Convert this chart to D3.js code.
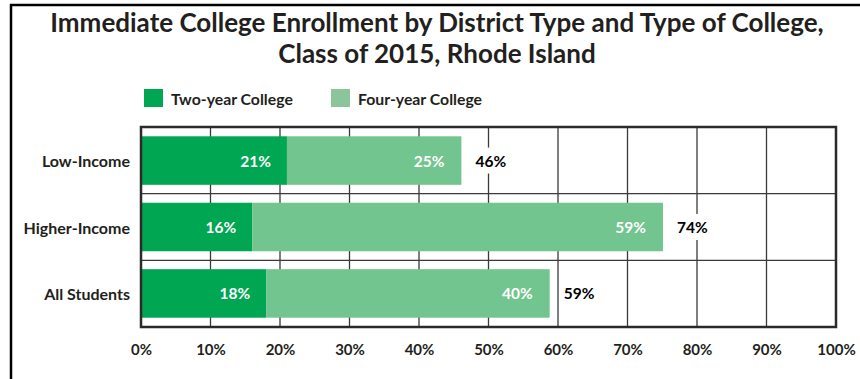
<!DOCTYPE html>
<html>
<head>
<meta charset="utf-8">
<script src="https://cdn.jsdelivr.net/npm/d3@7"></script>
<style>
  html, body { margin: 0; padding: 0; background: #fff; }
  svg { display: block; font-family: Lato, "Open Sans", sans-serif; }
</style>
</head>
<body>
<svg id="chart" width="860" height="379"></svg>
<script>
// ---- data ----
const categories = ["Low-Income", "Higher-Income", "All Students"];
const seriesNames = ["Two-year College", "Four-year College"];
const twoYear = [21, 16, 18];
const fourYear = [25.1, 59.1, 40.8];
const twoYearLabels = ["21%", "16%", "18%"];
const fourYearLabels = ["25%", "59%", "40%"];
const totalLabels = ["46%", "74%", "59%"];
const xTicks = [0, 10, 20, 30, 40, 50, 60, 70, 80, 90, 100];
const titleLines = ["Immediate College Enrollment by District Type and Type of College,",
                    "Class of 2015, Rhode Island"];

// ---- layout ----
const svg = d3.select("#chart");
const W = 860, H = 379;
const plot = { left: 141, right: 836, top: 127, bottom: 327 };
const textColor = "#231f20";
const colTwo = "#00a651", colFour = "#72c58e", colFourLegend = "#8cc59c";

// outer frame (top & left only)
svg.append("line").attr("x1", 10).attr("x2", W).attr("y1", 5).attr("y2", 5)
  .attr("stroke", "#000").attr("stroke-width", 2.5);
svg.append("line").attr("x1", 11).attr("x2", 11).attr("y1", 4).attr("y2", H)
  .attr("stroke", "#000").attr("stroke-width", 2.5);

// title
svg.append("text")
  .attr("x", 437).attr("y", 32)
  .attr("text-anchor", "middle")
  .attr("font-size", 26).attr("font-weight", 700).attr("fill", textColor)
  .attr("textLength", null)
  .selectAll("tspan").data(titleLines).join("tspan")
  .attr("x", 437).attr("dy", (d, i) => i === 0 ? 0 : 31)
  .text(d => d);

// legend
const legendX = [144, 331];
const lg = svg.append("g");
lg.selectAll("rect").data(seriesNames).join("rect")
  .attr("x", (d, i) => legendX[i]).attr("y", 89)
  .attr("width", 19).attr("height", 18)
  .attr("fill", (d, i) => i === 0 ? colTwo : colFourLegend);
lg.selectAll("text").data(seriesNames).join("text")
  .attr("x", (d, i) => legendX[i] + 27).attr("y", 98)
  .attr("dominant-baseline", "central")
  .attr("font-size", 15.8).attr("font-weight", 700).attr("fill", textColor)
  .text(d => d);

// scales
const x = d3.scaleLinear().domain([0, 100]).range([plot.left, plot.right]);
const y = d3.scaleBand().domain(categories).range([plot.top, plot.bottom]).paddingInner(0.27).paddingOuter(0.14);
const yRow = d3.scaleBand().domain(categories).range([plot.top, plot.bottom]);

// grid
const grid = svg.append("g");
grid.selectAll("line.v").data(xTicks.slice(1, -1)).join("line")
  .attr("class", "v")
  .attr("x1", d => x(d)).attr("x2", d => x(d))
  .attr("y1", plot.top).attr("y2", plot.bottom)
  .attr("stroke", "#3a3a3a").attr("stroke-width", 1.3);
grid.selectAll("line.h").data(categories.slice(1)).join("line")
  .attr("class", "h")
  .attr("x1", plot.left).attr("x2", plot.right)
  .attr("y1", d => yRow(d)).attr("y2", d => yRow(d))
  .attr("stroke", "#3a3a3a").attr("stroke-width", 1.3);

// bars
const rows = categories.map((c, i) => ({ c, two: twoYear[i], four: fourYear[i], i }));
const bars = svg.append("g");
bars.selectAll("rect.two").data(rows).join("rect")
  .attr("class", "two")
  .attr("x", x(0)).attr("y", d => y(d.c))
  .attr("width", d => x(d.two) - x(0)).attr("height", y.bandwidth())
  .attr("fill", colTwo);
bars.selectAll("rect.four").data(rows).join("rect")
  .attr("class", "four")
  .attr("x", d => x(d.two)).attr("y", d => y(d.c))
  .attr("width", d => x(d.two + d.four) - x(d.two)).attr("height", y.bandwidth())
  .attr("fill", colFour);

// inner labels
bars.selectAll("text.two").data(rows).join("text")
  .attr("class", "two")
  .attr("x", d => x(d.two) - 16).attr("y", d => y(d.c) + y.bandwidth() / 2)
  .attr("text-anchor", "end").attr("dominant-baseline", "central")
  .attr("font-size", 15.5).attr("font-weight", 700).attr("fill", "#fff")
  .text(d => twoYearLabels[d.i]);
bars.selectAll("text.four").data(rows).join("text")
  .attr("class", "four")
  .attr("x", d => x(d.two + d.four) - 17).attr("y", d => y(d.c) + y.bandwidth() / 2)
  .attr("text-anchor", "end").attr("dominant-baseline", "central")
  .attr("font-size", 15.5).attr("font-weight", 700).attr("fill", "#fff")
  .text(d => fourYearLabels[d.i]);

// total labels with white backing
const totals = svg.append("g");
const tg = totals.selectAll("g").data(rows).join("g")
  .attr("transform", d => `translate(${x(d.two + d.four) + 14},${y(d.c) + y.bandwidth() / 2})`);
tg.append("rect")
  .attr("x", -3).attr("y", -13).attr("width", 40).attr("height", 26)
  .attr("fill", "#fff");
tg.append("text")
  .attr("x", 0).attr("y", 0)
  .attr("dominant-baseline", "central")
  .attr("font-size", 15.5).attr("font-weight", 700).attr("fill", "#000")
  .text(d => totalLabels[d.i]);

// plot frame
svg.append("rect")
  .attr("x", plot.left).attr("y", plot.top)
  .attr("width", plot.right - plot.left).attr("height", plot.bottom - plot.top)
  .attr("fill", "none").attr("stroke", "#2a2a2a").attr("stroke-width", 2.5);

// y axis labels
svg.append("g").selectAll("text").data(categories).join("text")
  .attr("x", 130).attr("y", d => y(d) + y.bandwidth() / 2)
  .attr("text-anchor", "end").attr("dominant-baseline", "central")
  .attr("font-size", 16).attr("font-weight", 700).attr("fill", textColor)
  .text(d => d);

// x axis
const xAxis = d3.axisBottom(x).tickValues(xTicks).tickFormat(d => d + "%").tickSize(0).tickPadding(0);
const ax = svg.append("g").attr("transform", `translate(0,${349})`).call(xAxis);
ax.select(".domain").remove();
ax.selectAll("text")
  .attr("dy", null).attr("y", 0)
  .attr("dominant-baseline", "central")
  .attr("font-size", 15).attr("font-weight", 700).attr("fill", textColor)
  .attr("font-family", "Lato, sans-serif");
</script>
</body>
</html>
